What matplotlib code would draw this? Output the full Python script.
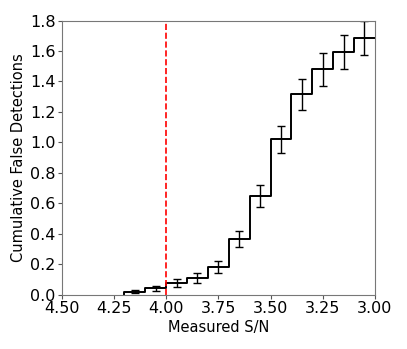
import numpy as np
import matplotlib
matplotlib.use('Agg')
from matplotlib import pyplot as plt

# bin edges in S/N (plotted high -> low) and cumulative false detections per bin
edges = [4.2, 4.1, 4.0, 3.9, 3.8, 3.7, 3.6, 3.5, 3.4, 3.3, 3.2, 3.1, 3.0]
counts = [0.02, 0.04, 0.075, 0.11, 0.18, 0.365, 0.645, 1.02, 1.315, 1.48, 1.595, 1.685]
errors = [0.011, 0.019, 0.024, 0.031, 0.04, 0.055, 0.072, 0.09, 0.10, 0.11, 0.112, 0.114]
threshold = 4.0

xticks = [4.50, 4.25, 4.00, 3.75, 3.50, 3.25, 3.00]
yticks = [0.0, 0.2, 0.4, 0.6, 0.8, 1.0, 1.2, 1.4, 1.6, 1.8]

edges = np.array(edges)
centers = 0.5 * (edges[:-1] + edges[1:])

fig = plt.figure(figsize=(4.07, 3.49), dpi=100)
ax = fig.add_axes([0.152, 0.156, 0.769, 0.785])

ax.step(edges, [0] + counts, where='pre', color='black', lw=1.4)
ax.errorbar(centers, counts, yerr=errors, fmt='none', ecolor='black',
            elinewidth=1.0, capsize=3, capthick=1.0)
ax.axvline(threshold, color='red', ls='--', lw=1.2)

ax.set_xlim(4.5, 3.0)
ax.set_ylim(0, 1.8)
ax.set_xticks(xticks)
ax.set_yticks(yticks)
ax.set_xticklabels(['%.2f' % t for t in xticks])
ax.set_yticklabels(['%.1f' % t for t in yticks])
ax.tick_params(labelsize=11.5, color='#555555', length=3, pad=1.5)
for s in ax.spines.values():
    s.set_color('#777777')

ax.set_xlabel('Measured S/N', fontsize=10.5, labelpad=3)
ax.set_ylabel('Cumulative False Detections', fontsize=10.5, labelpad=3)

fig.savefig('out.png', dpi=100)
